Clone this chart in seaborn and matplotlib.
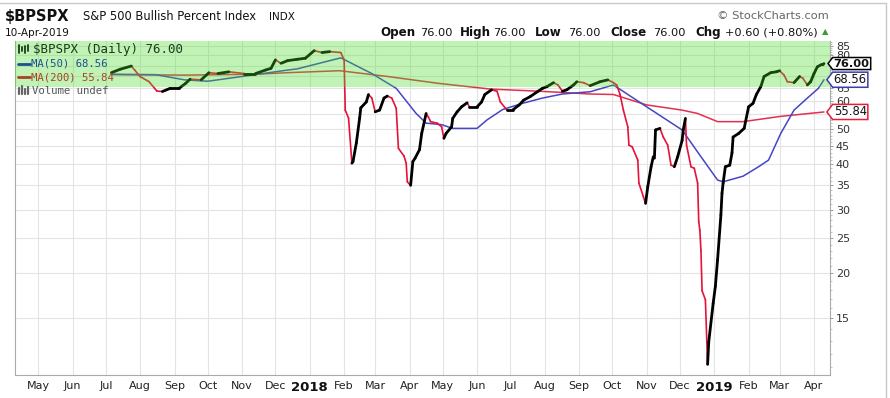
import numpy as np
import pandas as pd
import matplotlib
matplotlib.use("Agg")
import matplotlib.pyplot as plt
from matplotlib.path import Path
from matplotlib.lines import Line2D
from matplotlib.ticker import FixedLocator, NullFormatter
import seaborn as sns

# ---------------- data ----------------
price_dates = [
    "2017-07-06", "2017-07-14", "2017-07-24", "2017-07-27", "2017-08-01", "2017-08-09",
    "2017-08-16", "2017-08-21", "2017-08-28", "2017-09-05", "2017-09-11", "2017-09-15",
    "2017-09-25", "2017-10-02", "2017-10-10", "2017-10-20", "2017-11-03", "2017-11-13",
    "2017-11-22", "2017-11-27", "2017-12-01", "2017-12-06", "2017-12-12", "2017-12-21",
    "2017-12-28", "2018-01-05", "2018-01-12", "2018-01-19", "2018-01-29", "2018-02-01",
    "2018-02-02", "2018-02-05", "2018-02-08", "2018-02-09", "2018-02-12", "2018-02-15",
    "2018-02-16", "2018-02-21", "2018-02-23", "2018-02-26", "2018-03-01", "2018-03-05",
    "2018-03-09", "2018-03-12", "2018-03-16", "2018-03-20", "2018-03-22", "2018-03-27",
    "2018-03-29", "2018-03-30", "2018-04-02", "2018-04-04", "2018-04-06", "2018-04-10",
    "2018-04-12", "2018-04-16", "2018-04-18", "2018-04-20", "2018-04-26", "2018-04-30",
    "2018-05-02", "2018-05-04", "2018-05-09", "2018-05-10", "2018-05-14", "2018-05-18",
    "2018-05-23", "2018-05-25", "2018-06-01", "2018-06-05", "2018-06-08", "2018-06-14",
    "2018-06-19", "2018-06-22", "2018-06-28", "2018-07-03", "2018-07-09", "2018-07-13",
    "2018-07-19", "2018-07-26", "2018-07-30", "2018-08-03", "2018-08-09", "2018-08-13",
    "2018-08-17", "2018-08-21", "2018-08-27", "2018-08-30", "2018-09-05", "2018-09-11",
    "2018-09-20", "2018-09-27", "2018-10-02", "2018-10-05", "2018-10-08", "2018-10-11",
    "2018-10-15", "2018-10-16", "2018-10-19", "2018-10-24", "2018-10-25", "2018-10-29",
    "2018-10-31", "2018-11-02", "2018-11-05", "2018-11-07", "2018-11-08", "2018-11-09",
    "2018-11-13", "2018-11-16", "2018-11-20", "2018-11-23", "2018-11-26", "2018-11-29",
    "2018-12-03", "2018-12-04", "2018-12-06", "2018-12-07", "2018-12-11", "2018-12-14",
    "2018-12-17", "2018-12-18", "2018-12-19", "2018-12-20", "2018-12-21", "2018-12-24",
    "2018-12-26", "2018-12-27", "2018-12-31", "2019-01-02", "2019-01-04", "2019-01-07",
    "2019-01-08", "2019-01-09", "2019-01-11", "2019-01-15", "2019-01-17", "2019-01-18",
    "2019-01-23", "2019-01-28", "2019-02-01", "2019-02-05", "2019-02-08", "2019-02-12",
    "2019-02-15", "2019-02-21", "2019-02-26", "2019-03-01", "2019-03-05", "2019-03-08",
    "2019-03-14", "2019-03-19", "2019-03-22", "2019-03-26", "2019-03-29", "2019-04-01",
    "2019-04-04", "2019-04-08", "2019-04-09", "2019-04-10",
]
price_vals = [
    71.7, 73.3, 74.8, 72.9, 69.9, 67.7,
    63.8, 63.6, 64.9, 64.9, 67.0, 68.8,
    68.5, 71.7, 71.3, 72.1, 71.3, 71.3,
    72.9, 73.7, 77.8, 76.1, 77.4, 78.1,
    78.6, 82.5, 81.5, 82.0, 81.5, 77.8,
    56.5, 53.7, 40.3, 40.7, 45.8, 53.7,
    57.3, 59.5, 62.4, 61.0, 55.9, 56.5,
    61.0, 61.8, 61.0, 57.2, 44.3, 42.2,
    40.3, 35.8, 35.0, 40.7, 41.6, 43.9,
    48.7, 55.3, 54.1, 52.5, 52.0, 50.8,
    47.2, 48.7, 50.8, 53.6, 55.9, 57.7,
    59.2, 57.7, 57.7, 59.5, 62.4, 64.3,
    63.7, 59.5, 56.5, 56.5, 58.4, 60.2,
    61.6, 63.7, 64.9, 65.6, 67.3, 66.3,
    63.7, 64.3, 66.3, 67.7, 67.3, 66.0,
    67.7, 68.5, 67.3, 66.3, 62.4, 56.5,
    50.8, 45.2, 44.7, 41.1, 35.5, 32.6,
    31.2, 34.7, 39.4, 42.0, 41.6, 49.8,
    50.3, 47.6, 45.2, 39.8, 39.4, 42.0,
    46.6, 49.8, 53.6, 45.2, 39.4, 39.0,
    35.5, 27.8, 26.3, 23.1, 17.9, 16.9,
    11.2, 12.9, 16.5, 18.4, 21.8, 29.0,
    33.3, 35.5, 39.4, 39.8, 43.0, 47.6,
    48.7, 50.3, 57.7, 59.0, 62.4, 65.6,
    70.0, 71.7, 72.1, 72.6, 70.6, 67.7,
    67.3, 70.0, 69.2, 66.3, 67.7, 71.3,
    74.4, 75.6, 75.4, 76.0,
]

ma50_dates = [
    "2017-07-06", "2017-08-15", "2017-09-10", "2017-10-01", "2017-11-01", "2017-12-12",
    "2017-12-21", "2018-01-29", "2018-02-26", "2018-03-20", "2018-04-07", "2018-04-16",
    "2018-04-30", "2018-05-10", "2018-06-01", "2018-06-10", "2018-06-24", "2018-07-12",
    "2018-07-30", "2018-08-17", "2018-09-11", "2018-10-02", "2018-11-01", "2018-12-03",
    "2018-12-20", "2019-01-04", "2019-01-09", "2019-01-27", "2019-02-10", "2019-02-19",
    "2019-03-02", "2019-03-14", "2019-03-26", "2019-04-05", "2019-04-10",
]
ma50_vals = [
    71.0, 70.8, 68.5, 67.9, 70.0, 72.9,
    73.5, 78.8, 71.3, 64.9, 55.3, 52.0,
    51.5, 50.3, 50.3, 53.1, 56.7, 59.0,
    61.0, 62.6, 63.5, 66.3, 57.7, 49.8,
    42.0, 36.2, 35.8, 37.1, 39.4, 41.1,
    48.7, 56.5, 61.0, 64.9, 68.56,
]

ma200_dates = [
    "2017-07-06", "2017-09-10", "2017-11-13", "2017-12-12", "2018-01-28", "2018-03-12",
    "2018-04-27", "2018-06-13", "2018-07-28", "2018-09-11", "2018-10-02", "2018-11-01",
    "2018-12-03", "2018-12-17", "2019-01-04", "2019-01-27", "2019-03-02", "2019-04-10",
]
ma200_vals = [
    70.8, 70.6, 71.0, 71.7, 72.6, 70.0,
    67.0, 64.6, 63.7, 62.6, 62.4, 58.4,
    56.5, 55.3, 52.5, 52.5, 54.3, 55.84,
]

y_ticks = [15, 20, 25, 30, 35, 40, 45, 50, 55, 60, 65, 70, 75, 80, 85]
# labels hidden behind the value tags in the reference
y_hidden = [55, 70, 75]
month_ticks = pd.date_range("2017-05-01", "2019-04-01", freq="MS")
month_labels = [str(d.year) if d.month == 1 else d.strftime("%b") for d in month_ticks]

last_close = 76.00
last_ma50 = 68.56
last_ma200 = 55.84

# ---------------- styling ----------------
sns.set_style("white")
plt.rcParams["font.family"] = ["DejaVu Sans"]

W, H = 890, 398
fig = plt.figure(figsize=(W / 100, H / 100), dpi=100)
fig.patch.set_facecolor("white")


def fx(x):
    return x / W


def fy(y):
    return 1 - y / H


ax_l, ax_r, ax_t, ax_b = 15, 829.5, 40.5, 374.5
ax = fig.add_axes([fx(ax_l), fy(ax_b), (ax_r - ax_l) / W, (ax_b - ax_t) / H])
ax.set_facecolor("white")

# price line, coloured per segment by direction
p_d = pd.to_datetime(price_dates)
rows = []
for i in range(len(price_vals) - 1):
    direction = "up" if price_vals[i + 1] >= price_vals[i] else "down"
    rows.append((i, direction, p_d[i], price_vals[i]))
    rows.append((i, direction, p_d[i + 1], price_vals[i + 1]))
seg = pd.DataFrame(rows, columns=["seg", "dir", "date", "val"])

ma50 = pd.DataFrame({"date": pd.to_datetime(ma50_dates), "val": ma50_vals})
ma200 = pd.DataFrame({"date": pd.to_datetime(ma200_dates), "val": ma200_vals})

MA50_C = "#4646c4"
MA200_C = "#e2304e"
DOWN_C = "#e6123c"

sns.lineplot(data=ma200, x="date", y="val", color=MA200_C, lw=1.1, ax=ax, zorder=2)
sns.lineplot(data=ma50, x="date", y="val", color=MA50_C, lw=1.1, ax=ax, zorder=2)
sns.lineplot(data=seg, x="date", y="val", hue="dir", size="dir", units="seg",
             estimator=None, sort=False, hue_order=["down", "up"],
             palette={"up": "#000000", "down": DOWN_C},
             sizes={"up": 2.0, "down": 1.2}, legend=False, ax=ax, zorder=3)

ax.set_yscale("log")
ax.set_ylim(10.5, 88)
ax.set_xlim(pd.Timestamp("2017-04-10"), pd.Timestamp("2019-04-15"))

# green overlay band (drawn on top of the lines, translucent)
ax.axhspan(65.5, 200, facecolor="#44dd22", alpha=0.33, lw=0, zorder=5)

# y axis on the right
ax.yaxis.tick_right()
ax.yaxis.set_major_locator(FixedLocator(y_ticks))
ax.set_yticklabels(["" if v in y_hidden else str(v) for v in y_ticks])
minor = [v for v in range(11, 88) if v % 5 != 0]
ax.yaxis.set_minor_locator(FixedLocator(minor))
ax.yaxis.set_minor_formatter(NullFormatter())
ax.tick_params(axis="y", which="major", length=2.5, width=0.7, color="#999999",
               labelsize=8, labelcolor="#333333", pad=2, right=True, left=False)
ax.tick_params(axis="y", which="minor", length=1.6, width=0.6, color="#bbbbbb",
               right=True, left=False)

# x axis
ax.set_xticks(month_ticks)
ax.set_xticklabels(month_labels)
ax.tick_params(axis="x", length=2.5, width=0.7, color="#cccccc", labelsize=8,
               labelcolor="#222222", pad=2.5)
for lab, d in zip(ax.get_xticklabels(), month_ticks):
    if d.month == 1:
        lab.set_fontweight("bold")
        lab.set_fontsize(9.5)
        lab.set_color("#111111")

ax.set_xlabel("")
ax.set_ylabel("")
ax.grid(True, which="major", axis="both", color="#e3e3e3", lw=0.8, zorder=0)
ax.set_axisbelow(True)
for s in ["left", "right", "bottom"]:
    ax.spines[s].set_color("#aaaaaa")
    ax.spines[s].set_linewidth(0.8)
ax.spines["top"].set_visible(False)


# value tags on the right
def tag_box(x0, y0, width, height, mutation_size):
    pad = 0.09 * mutation_size
    x0 -= pad
    y0 -= pad
    w = width + 2 * pad
    h = height + 2 * pad
    tip = 0.38 * h
    verts = [(x0 - tip, y0 + h / 2), (x0, y0), (x0 + w, y0), (x0 + w, y0 + h),
             (x0, y0 + h), (x0 - tip, y0 + h / 2)]
    codes = [Path.MOVETO] + [Path.LINETO] * 4 + [Path.CLOSEPOLY]
    return Path(verts, codes)


for val, ec, weight, fs in [(last_close, "#000000", "bold", 8.2),
                            (last_ma50, "#3c3cb4", "normal", 8.4),
                            (last_ma200, "#e0203c", "normal", 8.4)]:
    ax.annotate(f"{val:.2f}", xy=(1, val), xycoords=ax.get_yaxis_transform(),
                xytext=(3.0, 0), textcoords="offset points", ha="left", va="center",
                fontsize=fs, fontweight=weight, color="#111111",
                bbox=dict(boxstyle=tag_box, fc="white", ec=ec, lw=1.1),
                annotation_clip=False, zorder=8)

# ---------------- header texts ----------------
fig.text(fx(5), fy(16), "$BPSPX", fontsize=10.5, fontweight="bold", va="center",
         color="#111111")
fig.text(fx(83), fy(16.5), "S&P 500 Bullish Percent Index", fontsize=8.3, va="center",
         color="#111111")
fig.text(fx(269), fy(16.5), "INDX", fontsize=7.5, va="center", color="#111111")
fig.text(fx(5), fy(32.5), "10-Apr-2019", fontsize=7.6, va="center", color="#111111")
fig.text(fx(829), fy(16), "\u00a9 StockCharts.com", fontsize=8.2, va="center",
         ha="right", color="#666666")

pieces = [(380, "Open", "bold"), (420, "76.00", "normal"),
          (460, "High", "bold"), (493, "76.00", "normal"),
          (535, "Low", "bold"), (568, "76.00", "normal"),
          (610, "Close", "bold"), (653, "76.00", "normal"),
          (695, "Chg", "bold"), (725, "+0.60 (+0.80%)", "normal")]
for x, t, w in pieces:
    fig.text(fx(x), fy(32.5), t, fontsize=8.2 if w == "normal" else 8.6,
             fontweight=w, va="center", color="#111111")
fig.text(fx(825), fy(32), "\u25b2", fontsize=6, va="center", ha="center",
         color="#3a9a3a")

# ---------------- in-chart legend ----------------
mono = ["DejaVu Sans Mono"]
fig.text(fx(33), fy(49), "$BPSPX (Daily) 76.00", fontsize=9, family=mono,
         va="center", color="#1c3a1c")
fig.text(fx(31), fy(63.5), "MA(50) 68.56", fontsize=7.7, family=mono,
         va="center", color="#1f4f8f")
fig.text(fx(31), fy(77), "MA(200) 55.84", fontsize=7.7, family=mono,
         va="center", color="#a8432a")
fig.text(fx(32), fy(90.5), "Volume undef", fontsize=7.7, family=mono,
         va="center", color="#555555")

# small legend icons
for xx, y0, y1 in [(19, 45, 53), (22, 47, 51), (25, 46, 53), (28, 45, 51)]:
    fig.add_artist(Line2D([fx(xx), fx(xx)], [fy(y0), fy(y1)], lw=1.3, color="#1c3a1c"))
fig.add_artist(Line2D([fx(18), fx(30)], [fy(63.5), fy(63.5)], lw=2, color="#1f4f8f"))
fig.add_artist(Line2D([fx(18), fx(30)], [fy(77), fy(77)], lw=2, color="#a8432a"))
for xx, y0 in [(19, 88), (22, 86), (25, 89), (28, 87)]:
    fig.add_artist(Line2D([fx(xx), fx(xx)], [fy(y0), fy(94)], lw=1.6, color="#666666"))

# outer frame lines (top & right)
fig.add_artist(Line2D([0, fx(886)], [fy(3), fy(3)], lw=1, color="#c8c8c8"))
fig.add_artist(Line2D([fx(886), fx(886)], [fy(3), 0], lw=1, color="#c8c8c8"))

fig.savefig("out.png", dpi=100, facecolor="white")
